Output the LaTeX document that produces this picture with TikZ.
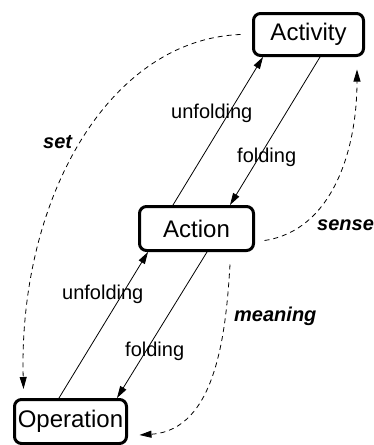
\documentclass[tikz,border=0pt]{standalone}
\usepackage{fontspec}
\setmainfont{Liberation Sans}
\usetikzlibrary{arrows.meta}
\begin{document}
\begin{tikzpicture}[x=1pt,y=-1pt,
  box/.style={draw,line width=3pt,rounded corners=7pt,inner sep=0pt,font=\fontsize{24}{28}\selectfont},
  arr/.style={line width=0.8pt,-{Triangle[length=12pt,width=7pt]}},
  darr/.style={line width=0.8pt,dash pattern=on 5pt off 4pt,-{Triangle[length=12pt,width=7pt]}},
  lab/.style={font=\fontsize{20}{24}\selectfont,inner sep=0pt},
  blab/.style={font=\fontsize{20}{24}\selectfont\bfseries\itshape,inner sep=0pt}]
\useasboundingbox (0,0) rectangle (373,445);
\node[box,minimum width=110pt,minimum height=42pt] (act) at (308.5,34.5) {Activity};
\node[box,minimum width=114pt,minimum height=44pt] (acn) at (196.5,228.5) {Action};
\node[box,minimum width=112pt,minimum height=44pt] (op) at (70.5,421.5) {Operation};
% solid arrows
\draw[arr] ([xshift=-11.5pt]op.north) -- ([xshift=-48.5pt]acn.south);
\draw[arr] ([xshift=10.5pt]acn.south) -- ([xshift=46.5pt]op.north);
\draw[arr] ([xshift=-23.5pt]acn.north) -- ([xshift=-45.5pt]act.south);
\draw[arr] ([xshift=11.5pt]act.south) -- ([xshift=33.5pt]acn.north);
% dashed arrows
\draw[darr] ([xshift=-11.5pt]act.west) .. controls +(-132,5) and +(-5,-190) .. ([xshift=10.5pt,yshift=9pt]op.north west);
\draw[darr] ([xshift=9.5pt,yshift=-12pt]acn.east) .. controls +(67,-10) and +(0,82) .. ([xshift=48.5pt,yshift=-12.5pt]act.south);
\draw[darr] ([xshift=33.5pt,yshift=-12.5pt]acn.south) .. controls +(-4,67) and +(77,-5) .. ([xshift=11.5pt,yshift=-13.5pt]op.east);
% labels
\node[lab,anchor=base west] (u1) at (171,118) {unfolding};
\node[lab,anchor=base west] (f1) at (237,162) {folding};
\node[lab,anchor=base west] (u2) at (62,299) {unfolding};
\node[lab,anchor=base west] (f2) at (125,356) {folding};
\node[blab,anchor=base west] (set) at (43,148) {set};
\node[blab,anchor=base west] (sense) at (317,230) {sense};
\node[blab,anchor=base west] (mean) at (234,321) {meaning};
\end{tikzpicture}
\end{document}
